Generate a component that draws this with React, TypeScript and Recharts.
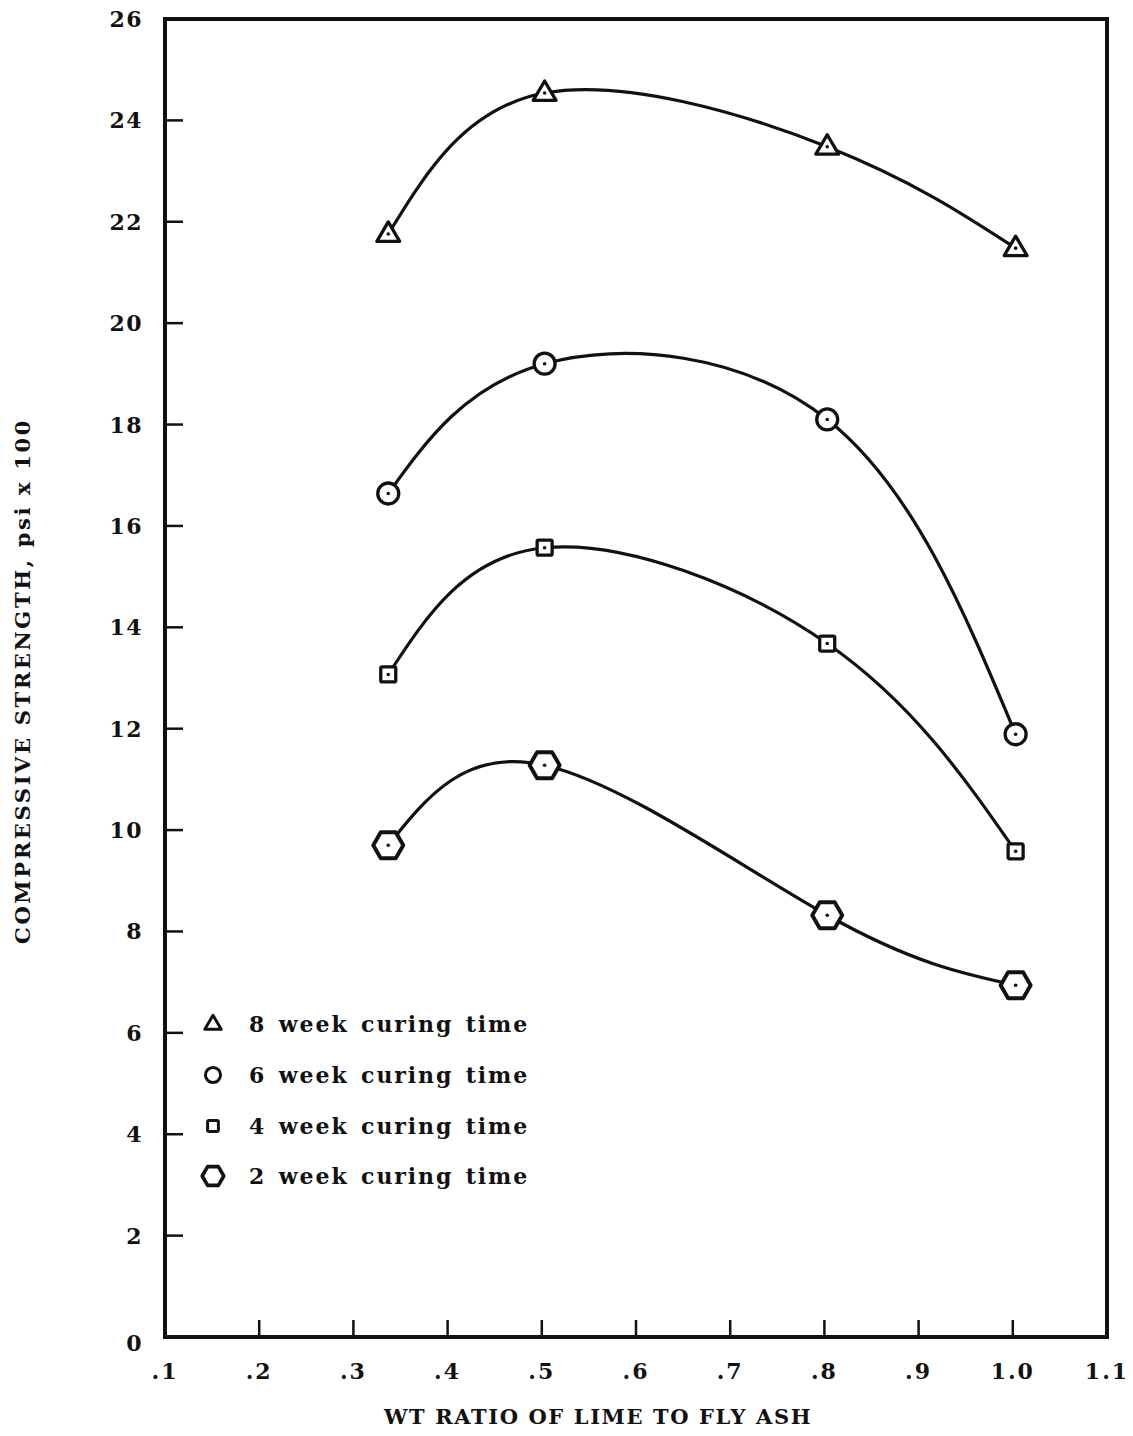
import { Line, LineChart, ReferenceArea, XAxis, YAxis } from "recharts";

const INK = "#111";
const FONT = "'DejaVu Serif', 'Liberation Serif', serif";

// lime : fly ash weight ratio of each mix
const RATIO = [0.337, 0.503, 0.803, 1.003];

// compressive strength, psi x 100
const WEEK_8 = [21.76, 24.54, 23.48, 21.48];
const WEEK_6 = [16.64, 19.2, 18.1, 11.89];
const WEEK_4 = [13.07, 15.57, 13.68, 9.58];
const WEEK_2 = [9.7, 11.28, 8.32, 6.94];

const X_TICKS = [0.1, 0.2, 0.3, 0.4, 0.5, 0.6, 0.7, 0.8, 0.9, 1.0, 1.1];
const Y_TICKS = [0, 2, 4, 6, 8, 10, 12, 14, 16, 18, 20, 22, 24, 26];

type Shape = "triangle" | "circle" | "square" | "hexagon";

const SERIES: { key: string; label: string; shape: Shape; values: number[] }[] = [
  { key: "w8", label: "8 week curing time", shape: "triangle", values: WEEK_8 },
  { key: "w6", label: "6 week curing time", shape: "circle", values: WEEK_6 },
  { key: "w4", label: "4 week curing time", shape: "square", values: WEEK_4 },
  { key: "w2", label: "2 week curing time", shape: "hexagon", values: WEEK_2 },
];

const W = 1133;
const H = 1436;
const Y_W = 165;
const X_H = 99;

function fmtRatio(v: number): string {
  if (v >= 0.999) return v.toFixed(1);
  return "." + Math.round(v * 10);
}

function Marker({ shape, cx, cy, scale = 1, center = true }: {
  shape: Shape;
  cx: number;
  cy: number;
  scale?: number;
  center?: boolean;
}) {
  const sw = 3.3 * Math.max(scale, 0.9);
  let body;
  if (shape === "triangle") {
    const r = 12 * scale;
    const pts = [
      [cx, cy - r],
      [cx + r * 0.95, cy + r * 0.62],
      [cx - r * 0.95, cy + r * 0.62],
    ];
    body = <polygon points={pts.map((p) => p.join(",")).join(" ")} fill="#fff" stroke={INK} strokeWidth={sw} strokeLinejoin="round" />;
  } else if (shape === "circle") {
    body = <circle cx={cx} cy={cy} r={10.5 * scale} fill="#fff" stroke={INK} strokeWidth={sw} />;
  } else if (shape === "square") {
    const s = 7.5 * scale;
    body = <rect x={cx - s} y={cy - s} width={2 * s} height={2 * s} rx={1.5} fill="#fff" stroke={INK} strokeWidth={sw} />;
  } else {
    const r = 15 * scale;
    const pts = [0, 60, 120, 180, 240, 300].map((a) => {
      const t = (a * Math.PI) / 180;
      return `${cx + r * Math.cos(t)},${cy + r * Math.sin(t)}`;
    });
    body = <polygon points={pts.join(" ")} fill="#fff" stroke={INK} strokeWidth={sw + 0.6} strokeLinejoin="round" />;
  }
  return (
    <g>
      {body}
      {center && <circle cx={cx} cy={cy} r={1.8} fill={INK} />}
    </g>
  );
}

function XTick({ x, y, payload }: any) {
  const v = payload.value as number;
  const inner = v > 0.15 && v < 1.05;
  return (
    <g>
      {inner && <line x1={x} y1={y} x2={x} y2={y - 17} stroke={INK} strokeWidth={2.5} />}
      <text x={x} y={y + 42} textAnchor="middle" fontFamily={FONT} fontWeight="bold" fontSize={22} letterSpacing={2} fill={INK}>
        {fmtRatio(v)}
      </text>
    </g>
  );
}

function YTick({ x, y, payload }: any) {
  const v = payload.value as number;
  const inner = v > 0 && v < 26;
  return (
    <g>
      {inner && <line x1={x} y1={y} x2={x + 18} y2={y} stroke={INK} strokeWidth={2.5} />}
      <text x={x - 22} y={y + 8 + (v === 0 ? 6 : 0)} textAnchor="end" fontFamily={FONT} fontWeight="bold" fontSize={22} letterSpacing={1.5} fill={INK}>
        {v}
      </text>
    </g>
  );
}

function CuringLegend() {
  return (
    <div
      style={{
        position: "absolute",
        left: 195,
        top: 999,
        fontFamily: FONT,
        fontWeight: "bold",
        fontSize: 22,
        color: INK,
        letterSpacing: 1.9,
        wordSpacing: 3,
      }}
    >
      {SERIES.map((s) => (
        <div key={s.key} style={{ display: "flex", alignItems: "center", height: 50.7 }}>
          <svg width={36} height={36} style={{ marginRight: 18 }}>
            <Marker shape={s.shape} cx={18} cy={18} scale={0.72} center={false} />
          </svg>
          <span>{s.label}</span>
        </div>
      ))}
    </div>
  );
}

export default function App() {
  return (
    <div style={{ width: W, height: H, position: "relative", background: "#fff" }}>
      <style>{"body{margin:0}"}</style>
      <LineChart width={W} height={H} margin={{ top: 19, right: 26, bottom: 0, left: 0 }}>
        <XAxis
          type="number"
          dataKey="x"
          domain={[0.1, 1.1]}
          ticks={X_TICKS}
          height={X_H}
          tickSize={0}
          tickMargin={0}
          tickLine={false}
          axisLine={false}
          tick={<XTick />}
          interval={0}
          allowDataOverflow
        />
        <YAxis
          type="number"
          domain={[0, 26]}
          ticks={Y_TICKS}
          width={Y_W}
          tickSize={0}
          tickMargin={0}
          tickLine={false}
          axisLine={false}
          tick={<YTick />}
          interval={0}
          allowDataOverflow
        />
        {/* plot frame */}
        <ReferenceArea x1={0.1} x2={1.1} y1={0} y2={26} fill="none" stroke={INK} strokeWidth={4} ifOverflow="visible" />
        {SERIES.map((s) => (
          <Line
            key={s.key}
            data={RATIO.map((x, i) => ({ x, y: s.values[i] }))}
            dataKey="y"
            name={s.label}
            type="natural"
            stroke={INK}
            strokeWidth={3.2}
            isAnimationActive={false}
            dot={(p: any) => <Marker key={`${s.key}-${p.index}`} shape={s.shape} cx={p.cx} cy={p.cy} />}
            activeDot={false}
          />
        ))}
      </LineChart>
      <CuringLegend />
      <div
        style={{
          position: "absolute",
          left: 598,
          top: 1404,
          transform: "translateX(-50%)",
          whiteSpace: "nowrap",
          fontFamily: FONT,
          fontWeight: "bold",
          fontSize: 21,
          letterSpacing: 1.6,
          color: INK,
        }}
      >
        WT RATIO OF LIME TO FLY ASH
      </div>
      <div
        style={{
          position: "absolute",
          left: 22,
          top: 681,
          transform: "translate(-50%, -50%) rotate(-90deg)",
          whiteSpace: "nowrap",
          fontFamily: FONT,
          fontWeight: "bold",
          fontSize: 21,
          letterSpacing: 2.65,
          color: INK,
        }}
      >
        COMPRESSIVE STRENGTH, psi x 100
      </div>
    </div>
  );
}
